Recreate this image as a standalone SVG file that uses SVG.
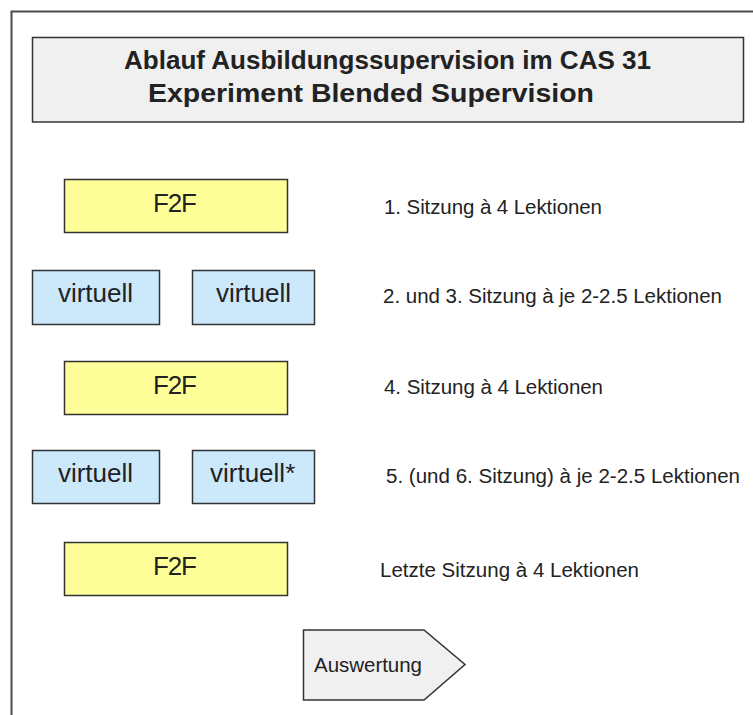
<svg xmlns="http://www.w3.org/2000/svg" width="753" height="715" viewBox="0 0 753 715">
  <style>
    .frame { fill: none; stroke: #4a4a4a; stroke-width: 2; }
    .box { stroke: #333; stroke-width: 1.5; }
    .f2f { fill: #ffff99; }
    .virt { fill: #cce8fb; }
    .grey { fill: #f0f0f0; }
    .t { font-family: "Liberation Sans", Arial, sans-serif; fill: #222; }
    .title { font-size: 25px; font-weight: bold; }
    .big { font-size: 26px; }
    .lbl { font-size: 20.5px; }
  </style>

  <!-- outer frame (open on the right and bottom) -->
  <path class="frame" d="M11.5 715 V11.5 H753"/>

  <g id="title">
    <rect class="box grey" x="32.5" y="37.5" width="711" height="84.5"/>
    <text class="t title" x="124" y="69" textLength="527" lengthAdjust="spacingAndGlyphs">Ablauf Ausbildungssupervision im CAS 31</text>
    <text class="t title" x="148" y="102" textLength="446" lengthAdjust="spacingAndGlyphs">Experiment Blended Supervision</text>
  </g>

  <g id="f2f1">
    <rect class="box f2f" x="64.5" y="179.5" width="223" height="53"/>
    <text class="t big" x="153" y="212" textLength="44">F2F</text>
  </g>
  <g id="virt1">
    <rect class="box virt" x="32.5" y="270.5" width="127" height="54"/>
    <text class="t big" x="58" y="302" textLength="75">virtuell</text>
  </g>
  <g id="virt2">
    <rect class="box virt" x="192.5" y="270.5" width="122" height="54"/>
    <text class="t big" x="216" y="302" textLength="75">virtuell</text>
  </g>
  <g id="f2f2">
    <rect class="box f2f" x="64.5" y="361.5" width="223" height="53"/>
    <text class="t big" x="153" y="394" textLength="44">F2F</text>
  </g>
  <g id="virt3">
    <rect class="box virt" x="32.5" y="450.5" width="127" height="53"/>
    <text class="t big" x="58" y="482" textLength="75">virtuell</text>
  </g>
  <g id="virt4">
    <rect class="box virt" x="192.5" y="450.5" width="122" height="53"/>
    <text class="t big" x="210" y="482">virtuell*</text>
  </g>
  <g id="f2f3">
    <rect class="box f2f" x="64.5" y="542.5" width="223" height="53"/>
    <text class="t big" x="153" y="575" textLength="44">F2F</text>
  </g>
  <g id="auswertung">
    <polygon class="box grey" points="303.5,630 424,630 465,664.5 424,700 303.5,700"/>
    <text class="t lbl" x="314" y="672" textLength="108">Auswertung</text>
  </g>

  <g id="labels">
    <text class="t lbl" x="384" y="214" textLength="218">1. Sitzung à 4 Lektionen</text>
    <text class="t lbl" x="383" y="303" textLength="339">2. und 3. Sitzung à je 2-2.5 Lektionen</text>
    <text class="t lbl" x="384" y="394" textLength="219">4. Sitzung à 4 Lektionen</text>
    <text class="t lbl" x="386" y="483" textLength="354">5. (und 6. Sitzung) à je 2-2.5 Lektionen</text>
    <text class="t lbl" x="380" y="577" textLength="259">Letzte Sitzung à 4 Lektionen</text>
  </g>

  <g id="connectors"/>
</svg>
